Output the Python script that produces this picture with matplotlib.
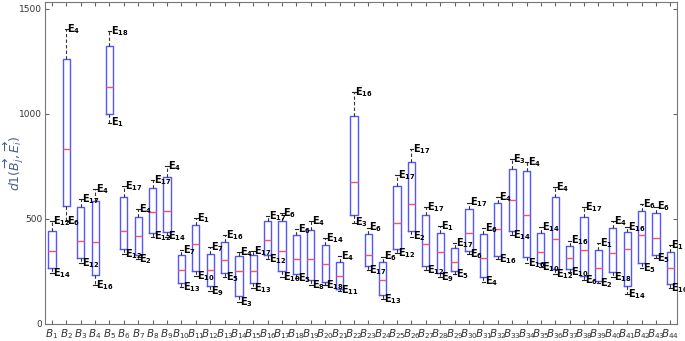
import matplotlib
matplotlib.use("Agg")
import matplotlib.pyplot as plt

# ---------------------------------------------------------------
# DATOS
# ---------------------------------------------------------------
categorias = [f"B{i}" for i in range(1, 45)]
whis_lo = [241, 490, 289, 186, 959, 333, 308, 416, 416, 175, 229, 157, 222, 106, 170,
           311, 225, 217, 186, 186, 159, 483, 257, 117, 337, 416, 257, 222, 238, 333,
           202, 308, 424, 289, 273, 238, 249, 210, 194, 225, 143, 265, 313, 170]
q1 = [265, 562, 313, 233, 998, 359, 330, 435, 438, 197, 254, 181, 241, 135, 194,
      329, 251, 238, 210, 202, 168, 519, 276, 138, 359, 441, 278, 241, 251, 346,
      222, 324, 443, 321, 289, 260, 260, 229, 206, 249, 181, 289, 330, 189]
mediana = [349, 833, 397, 389, 1127, 445, 419, 532, 537, 259, 379, 259, 303, 251, 251,
           398, 349, 311, 308, 284, 227, 675, 327, 208, 481, 571, 379, 343, 294, 432,
           316, 451, 590, 519, 341, 403, 313, 351, 265, 337, 356, 422, 410, 265]
q3 = [441, 1260, 559, 587, 1325, 604, 511, 649, 702, 330, 470, 333, 392, 324, 327,
      489, 489, 422, 448, 375, 297, 992, 427, 294, 657, 773, 521, 435, 363, 549,
      427, 575, 738, 729, 435, 603, 371, 508, 352, 456, 437, 540, 529, 344]
whis_hi = [490, 1403, 594, 641, 1395, 655, 546, 686, 754, 352, 503, 368, 424, 344, 349,
           514, 527, 451, 492, 408, 324, 1106, 459, 321, 710, 833, 556, 467, 384, 578,
           456, 606, 784, 773, 460, 651, 397, 556, 384, 492, 463, 571, 559, 376]
etiqueta_sup = [12, 4, 17, 4, 18, 17, 4, 17, 4, 7, 1, 7, 16, 4, 17,
                17, 6, 6, 4, 14, 4, 16, 6, 6, 17, 17, 17, 1, 17, 17,
                6, 4, 3, 4, 14, 4, 16, 17, 1, 4, 16, 6, 6, 1]
etiqueta_inf = [14, 6, 12, 16, 1, 12, 2, 12, 14, 13, 10, 9, 5, 3, 13,
                12, 10, 5, 8, 18, 11, 3, 17, 13, 12, 2, 12, 9, 5, 6,
                4, 16, 14, 16, 10, 12, 10, 6, 2, 18, 14, 5, 5, 10]

# ---------------------------------------------------------------
# GRAFICO
# ---------------------------------------------------------------
fig = plt.figure(figsize=(6.85, 3.41), dpi=100)
ax = fig.add_axes([0.066, 0.05, 0.922, 0.944])

stats = []
for i in range(len(categorias)):
    stats.append({"whislo": whis_lo[i], "q1": q1[i], "med": mediana[i],
                  "q3": q3[i], "whishi": whis_hi[i], "fliers": []})

pos = list(range(1, len(categorias) + 1))
ax.bxp(stats, positions=pos, widths=0.5, showfliers=False,
       boxprops=dict(color="#5555ff", linewidth=1.0),
       medianprops=dict(color="#ff5555", linewidth=1.0),
       whiskerprops=dict(color="#333333", linewidth=0.8, linestyle=(0, (3, 2))),
       capprops=dict(color="#222222", linewidth=0.8), capwidths=0.25)

for p, lo, hi, ls, li in zip(pos, whis_lo, whis_hi, etiqueta_sup, etiqueta_inf):
    ax.text(p + 0.08, hi, r"$\mathbf{E}_{\mathbf{%d}}$" % ls, fontsize=7,
            va="center", ha="left", color="black")
    ax.text(p + 0.08, lo, r"$\mathbf{E}_{\mathbf{%d}}$" % li, fontsize=7,
            va="center", ha="left", color="black")

ax.set_xlim(0.53, 44.45)
ax.set_ylim(0, 1533)
ax.set_xticks(pos)
ax.set_xticklabels([r"$B_{%d}$" % i for i in pos], fontsize=7.5, color="#333333")
ax.set_yticks([0, 500, 1000, 1500])
ax.tick_params(axis="y", labelsize=6.5, labelcolor="#333333")
ax.tick_params(direction="in", top=True, right=True, length=3, color="#666666", pad=2)
for s in ax.spines.values():
    s.set_color("#777777")
    s.set_linewidth(0.8)

ax.set_ylabel(r"$d1(\overrightarrow{B_j},\overrightarrow{E_i})$", color="#4a5f8f",
              fontsize=9)
ax.yaxis.set_label_coords(-0.031, 0.5)

plt.savefig("out.png", dpi=100)
